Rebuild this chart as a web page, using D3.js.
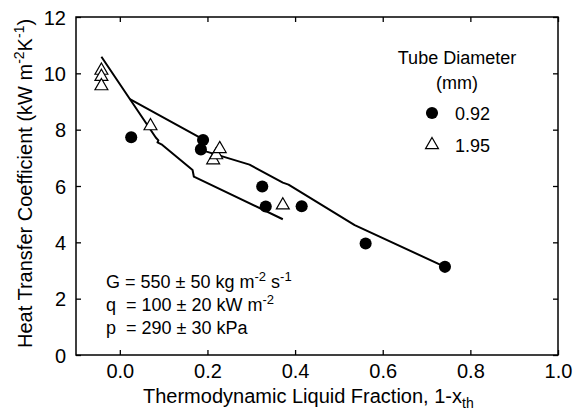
<!DOCTYPE html>
<html>
<head>
<meta charset="utf-8">
<script src="https://cdn.jsdelivr.net/npm/d3@7"></script>
<style>
  body { margin: 0; background: #fff; }
  svg { display: block; font-family: Arial, "Liberation Sans", sans-serif; }
</style>
</head>
<body>
<svg id="chart" width="573" height="412"></svg>
<script>
// ---- data ----
const xTicks = [0.0, 0.2, 0.4, 0.6, 0.8, 1.0];
const yTicks = [0, 2, 4, 6, 8, 10, 12];

// Tube diameter 0.92 mm (filled circles)
const d092X = [0.026, 0.190, 0.185, 0.325, 0.333, 0.415, 0.561, 0.742];
const d092Y = [7.73, 7.63, 7.30, 5.98, 5.27, 5.28, 3.96, 3.13];

// Tube diameter 1.95 mm (open triangles)
const d195X = [-0.042, -0.042, -0.042, 0.070, 0.213, 0.220, 0.228, 0.372];
const d195Y = [10.10, 9.88, 9.55, 8.13, 6.92, 7.10, 7.32, 5.32];

// Prediction lines
const line1X = [-0.042, 0.082, 0.088, 0.086, 0.095, 0.166, 0.169, 0.372];
const line1Y = [10.59, 7.72, 7.62, 7.55, 7.48, 6.57, 6.33, 4.82];
const line2X = [0.023, 0.183, 0.192, 0.198, 0.296, 0.372, 0.385, 0.536, 0.742];
const line2Y = [9.08, 7.72, 7.30, 7.22, 6.76, 6.12, 6.05, 4.61, 3.13];

// ---- layout ----
const svg = d3.select("#chart");
const L = 76, R = 558, T = 17, B = 355;
const x = d3.scaleLinear().domain([-0.1, 1.0]).range([L, R]);
const y = d3.scaleLinear().domain([0, 12]).range([B, T]);

const tickLen = 5;
const fmtX = d3.format(".1f");

// frame
svg.append("rect").attr("x", L).attr("y", T).attr("width", R - L).attr("height", B - T)
  .attr("fill", "none").attr("stroke", "#000").attr("stroke-width", 1.5);

// bottom axis (inward ticks)
const gB = svg.append("g").attr("transform", `translate(0,${B})`)
  .call(d3.axisBottom(x).tickValues(xTicks).tickSizeInner(-tickLen).tickSizeOuter(0).tickPadding(9).tickFormat(fmtX));
// top axis ticks
const gT = svg.append("g").attr("transform", `translate(0,${T})`)
  .call(d3.axisTop(x).tickValues(xTicks).tickSizeInner(-tickLen).tickSizeOuter(0).tickFormat(""));
// left axis
const gL = svg.append("g").attr("transform", `translate(${L},0)`)
  .call(d3.axisLeft(y).tickValues(yTicks).tickSizeInner(-tickLen).tickSizeOuter(0).tickPadding(10).tickFormat(d3.format("d")));
// right axis ticks
const gR = svg.append("g").attr("transform", `translate(${R},0)`)
  .call(d3.axisRight(y).tickValues(yTicks).tickSizeInner(-tickLen).tickSizeOuter(0).tickFormat(""));

[gB, gT, gL, gR].forEach(g => {
  g.select(".domain").remove();
  g.selectAll(".tick line").attr("stroke", "#000").attr("stroke-width", 1.3);
  g.selectAll("text").attr("fill", "#000").style("font-size", "20px")
   .style("font-family", "Arial, 'Liberation Sans', sans-serif");
});
gB.selectAll("text").attr("dy", "0.71em");
gL.selectAll("text").attr("dy", "0.36em");

// lines
const lineGen = d3.line().x(d => x(d[0])).y(d => y(d[1]));
const l1 = line1X.map((v, i) => [v, line1Y[i]]);
const l2 = line2X.map((v, i) => [v, line2Y[i]]);
[l1, l2].forEach(pts => {
  svg.append("path").attr("d", lineGen(pts)).attr("fill", "none")
    .attr("stroke", "#000").attr("stroke-width", 2).attr("stroke-linejoin", "round");
});

// markers
const triSym = d3.symbol().type(d3.symbolTriangle).size(72);
const circSym = d3.symbol().type(d3.symbolCircle).size(115);

svg.append("g").selectAll("path").data(d195X.map((v, i) => [v, d195Y[i]])).join("path")
  .attr("d", triSym).attr("transform", d => `translate(${x(d[0])},${y(d[1])})`)
  .attr("fill", "#fff").attr("stroke", "#000").attr("stroke-width", 1.2);

svg.append("g").selectAll("path").data(d092X.map((v, i) => [v, d092Y[i]])).join("path")
  .attr("d", circSym).attr("transform", d => `translate(${x(d[0])},${y(d[1])})`)
  .attr("fill", "#000");

// legend
const lg = svg.append("g").style("font-size", "18px").attr("fill", "#000");
lg.append("text").attr("x", 457).attr("y", 64).attr("text-anchor", "middle").text("Tube Diameter");
lg.append("text").attr("x", 457).attr("y", 89).attr("text-anchor", "middle").text("(mm)");
lg.append("path").attr("d", circSym).attr("transform", "translate(432,113)").attr("fill", "#000");
lg.append("text").attr("x", 455).attr("y", 119.5).text("0.92");
lg.append("path").attr("d", triSym).attr("transform", "translate(432,145)")
  .attr("fill", "#fff").attr("stroke", "#000").attr("stroke-width", 1.2);
lg.append("text").attr("x", 455).attr("y", 151.5).text("1.95");

// annotation
const an = svg.append("g").style("font-size", "18px").attr("fill", "#000");
const t1 = an.append("text").attr("x", 106).attr("y", 288);
t1.append("tspan").text("G = 550 ± 50 kg m");
t1.append("tspan").attr("dy", -7).style("font-size", "13px").text("-2");
t1.append("tspan").attr("dy", 7).text(" s");
t1.append("tspan").attr("dy", -7).style("font-size", "13px").text("-1");
const t2 = an.append("text").attr("x", 106).attr("y", 311).attr("xml:space", "preserve");
t2.append("tspan").text("q  = 100 ± 20 kW m");
t2.append("tspan").attr("dy", -7).style("font-size", "13px").text("-2");
const t3 = an.append("text").attr("x", 106).attr("y", 334).attr("xml:space", "preserve");
t3.append("tspan").text("p  = 290 ± 30 kPa");

// x-axis title
const xt = svg.append("text").attr("x", 143).attr("y", 403).style("font-size", "20px").attr("fill", "#000");
xt.append("tspan").text("Thermodynamic Liquid Fraction, 1-x");
xt.append("tspan").attr("dy", 5).style("font-size", "14px").text("th");

// y-axis title
const yt = svg.append("text").attr("transform", "translate(32,348) rotate(-90)")
  .style("font-size", "20px").attr("fill", "#000");
yt.append("tspan").text("Heat Transfer Coefficient (kW m");
yt.append("tspan").attr("dy", -8).style("font-size", "14px").text("-2");
yt.append("tspan").attr("dy", 8).text("K");
yt.append("tspan").attr("dy", -8).style("font-size", "14px").text("-1");
yt.append("tspan").attr("dy", 8).text(")");
</script>
</body>
</html>
